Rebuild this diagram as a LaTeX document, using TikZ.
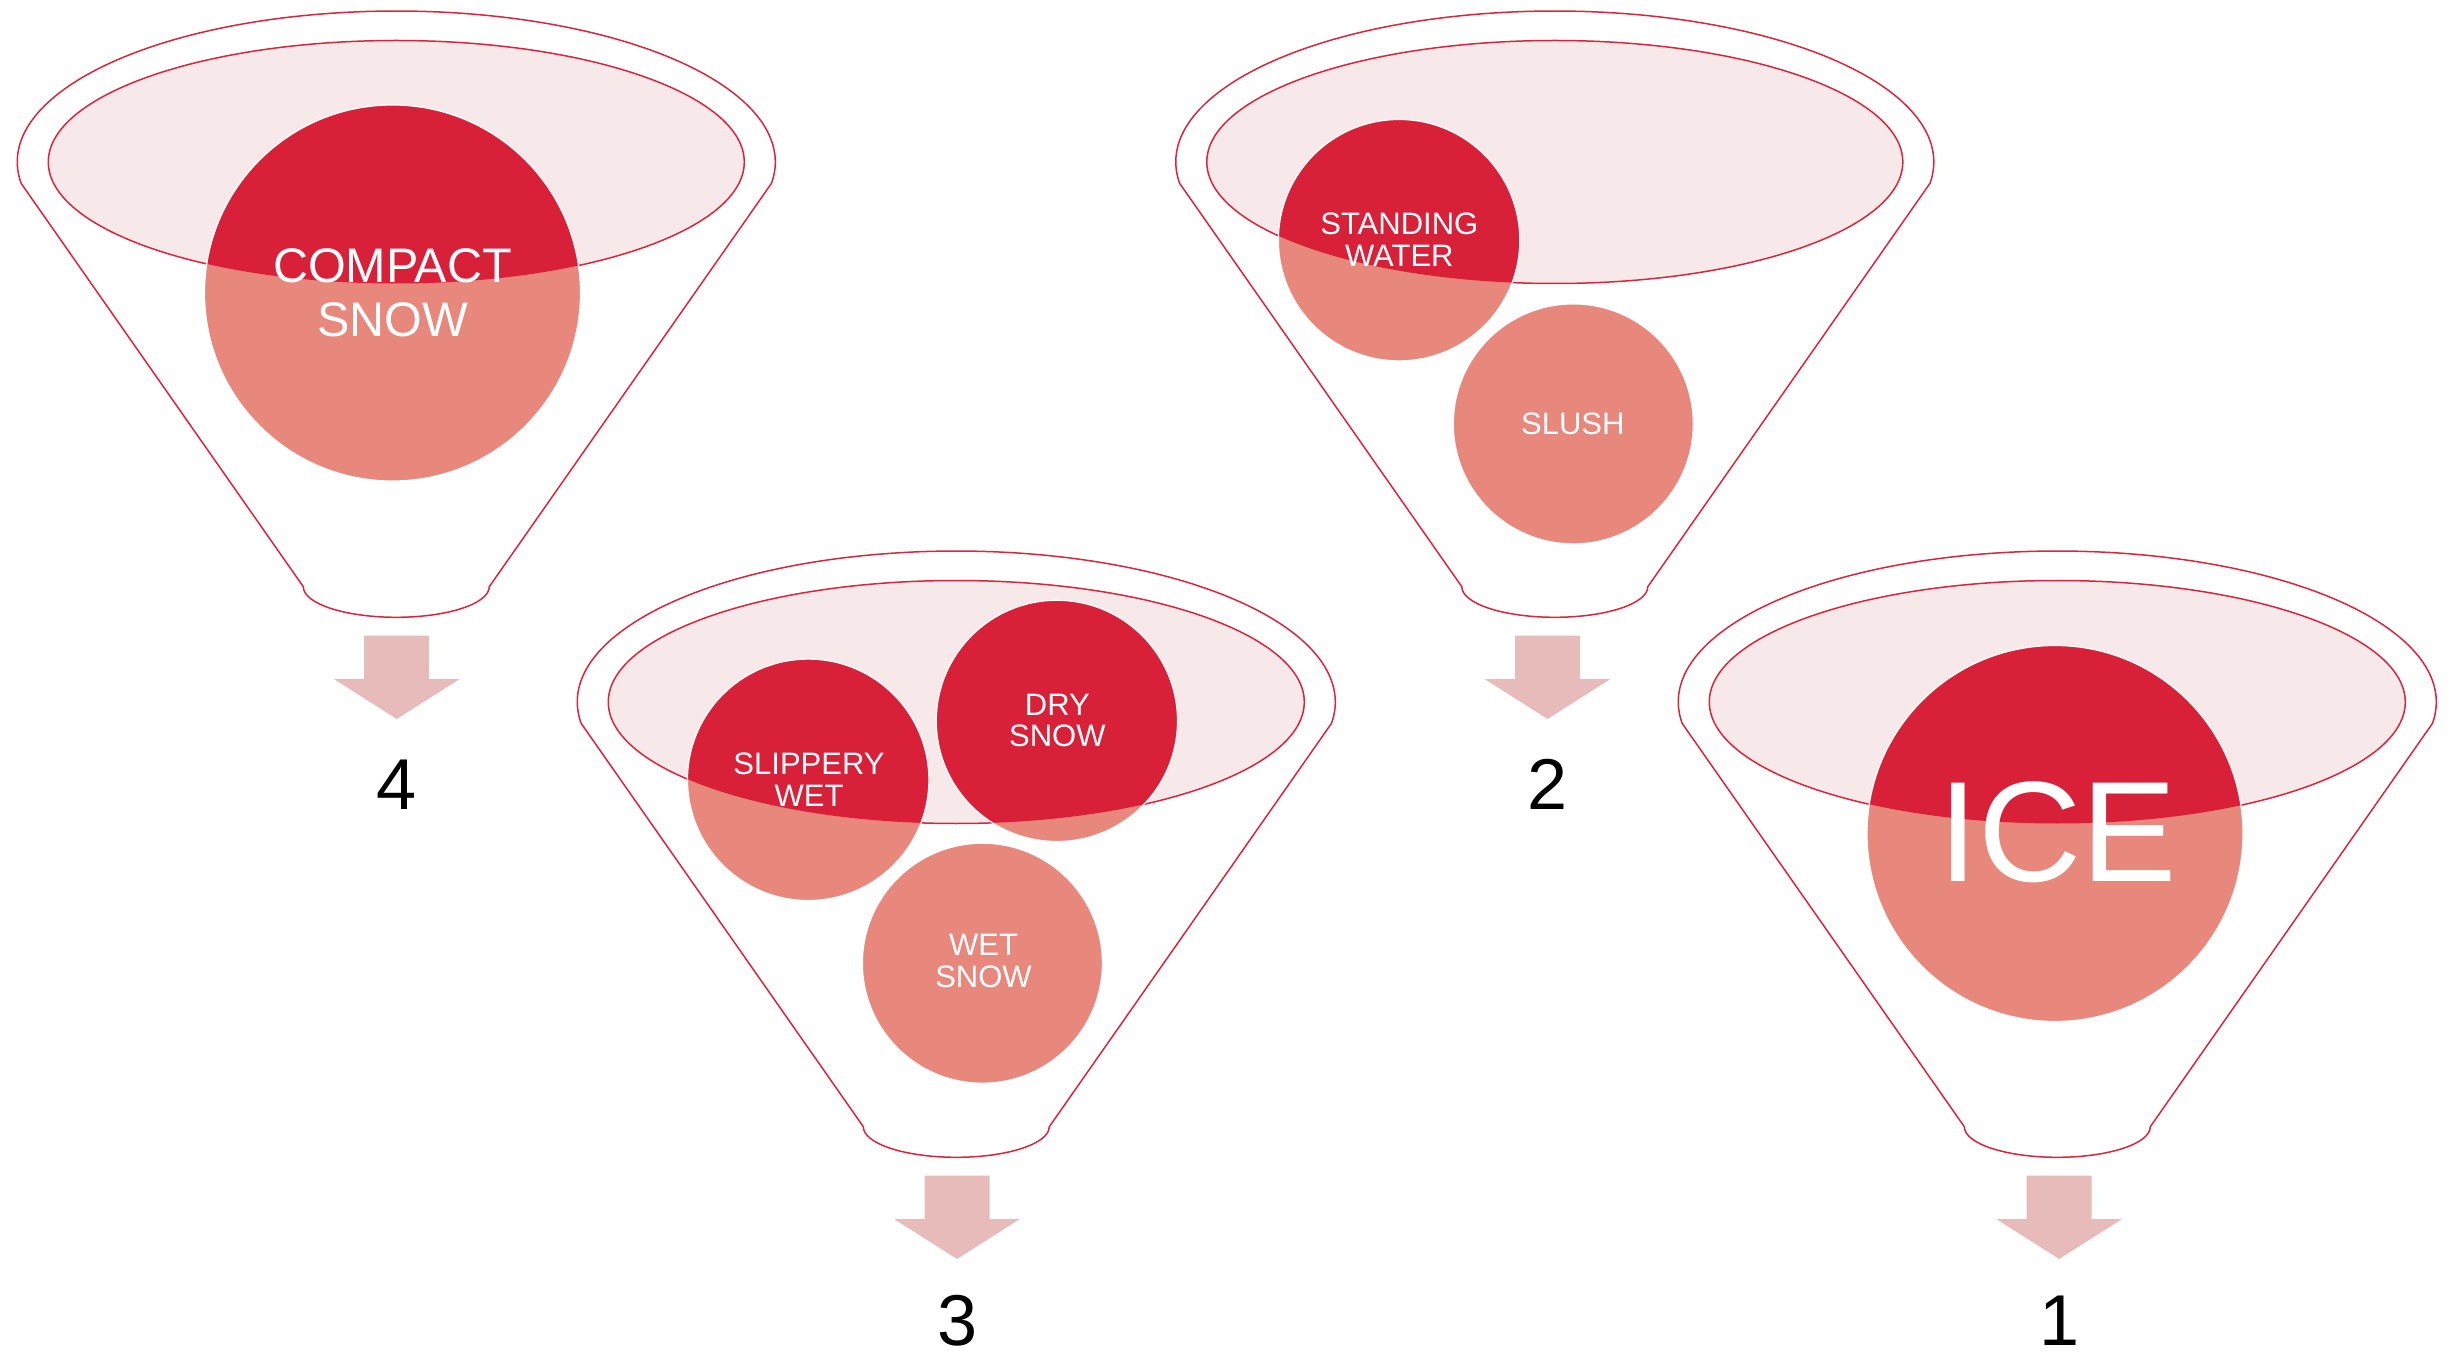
\documentclass[tikz,border=0pt]{standalone}
\usepackage{fontspec}
\setmainfont{Liberation Sans}
\definecolor{rimred}{HTML}{D7263D}
\definecolor{deepred}{HTML}{D82039}
\definecolor{salmon}{HTML}{E8877B}
\definecolor{bowlpink}{HTML}{F7E8E9}
\definecolor{arrowpink}{HTML}{E8BBBB}
\tikzset{
  rim/.style={draw=rimred, line width=0.75pt},
  label/.style={text=white, align=center, inner sep=0pt},
  smalllabel/.style={label, font={\fontsize{15.5}{15.9}\selectfont}},
  biglabel/.style={label, font={\fontsize{24.25}{27.2}\selectfont}},
  hugelabel/.style={label, font={\fontsize{71.5}{80}\selectfont}},
  rank/.style={inner sep=0pt, text=black, font={\fontsize{36}{40}\selectfont}},
  downarrow/.style={fill=arrowpink},
}
% funnel outline and the pink bowl, in local coordinates
\newcommand{\funnelbody}{%
  \path[rim, fill=white] (21.1,183.3)
    arc[start angle=171.9, end angle=368.1, x radius=379, y radius=151]
    -- (489.3,586.7)
    arc[start angle=0, end angle=180, x radius=93, y radius=30.6]
    -- cycle;
  \path[rim, fill=bowlpink] (396.3,162) ellipse[x radius=348, y radius=121.5];
}
% a ball: deep red inside the bowl, salmon below it
\newcommand{\ball}[3]{%
  \fill[salmon] (#1,#2) circle[radius=#3];
  \begin{scope}
    \clip (396.3,162) ellipse[x radius=348, y radius=121.5];
    \fill[deepred] (#1,#2) circle[radius=#3];
  \end{scope}
  \draw[white, line width=0.6pt] (#1,#2) circle[radius=#3];
}
% the arrow under a funnel, centred on x = #1
\newcommand{\funnelarrow}[1]{%
  \begin{scope}[xshift=#1*0.5pt]
  \fill[downarrow] (-32.5,635.7) -- (32.5,635.7) -- (32.5,679.2) -- (62.7,679.2)
    -- (0,719) -- (-62.7,679.2) -- (-32.5,679.2) -- cycle;
  \end{scope}
}
\begin{document}
\begin{tikzpicture}[x=0.5pt, y=-0.5pt]
\useasboundingbox (0,0) rectangle (2454,1353);

% funnel 4
\begin{scope}
  \funnelbody
  \ball{392.5}{293}{188}
  \node[biglabel] (compact) at (392.5,292.9) {COMPACT\\SNOW};
  \funnelarrow{396.7}
  \node[rank] (n4) at (396.7,784.5) {4};
\end{scope}

% funnel 2
\begin{scope}[shift={(1158.5,0)}]
  \funnelbody
  \ball{240.6}{240.2}{120.7}
  \ball{414.8}{423.9}{120}
  \node[smalllabel] (standing) at (240.8,239.8) {STANDING\\WATER};
  \node[smalllabel] (slush) at (414.3,423.5) {SLUSH};
  \funnelarrow{389}
  \node[rank] (n2) at (389.2,784.5) {2};
\end{scope}

% funnel 3
\begin{scope}[shift={(560,540)}]
  \funnelbody
  \ball{248.2}{239.8}{120.7}
  \ball{496.9}{180.9}{120.6}
  \ball{422.4}{423.2}{120}
  \node[smalllabel] (slippery) at (249,239.5) {SLIPPERY\\WET};
  \node[smalllabel] (dry) at (497.4,180.5) {DRY\\SNOW};
  \node[smalllabel] (wet) at (423.5,421.3) {WET\\SNOW};
  \funnelarrow{397}
  \node[rank] (n3) at (397.5,781) {3};
\end{scope}

% funnel 1
\begin{scope}[shift={(1661,540)}]
  \funnelbody
  \ball{394}{293.5}{188}
  \node[hugelabel] (ice) at (397,292.5) {ICE};
  \funnelarrow{398.2}
  \node[rank] (n1) at (398.2,781) {1};
\end{scope}
\end{tikzpicture}
\end{document}
